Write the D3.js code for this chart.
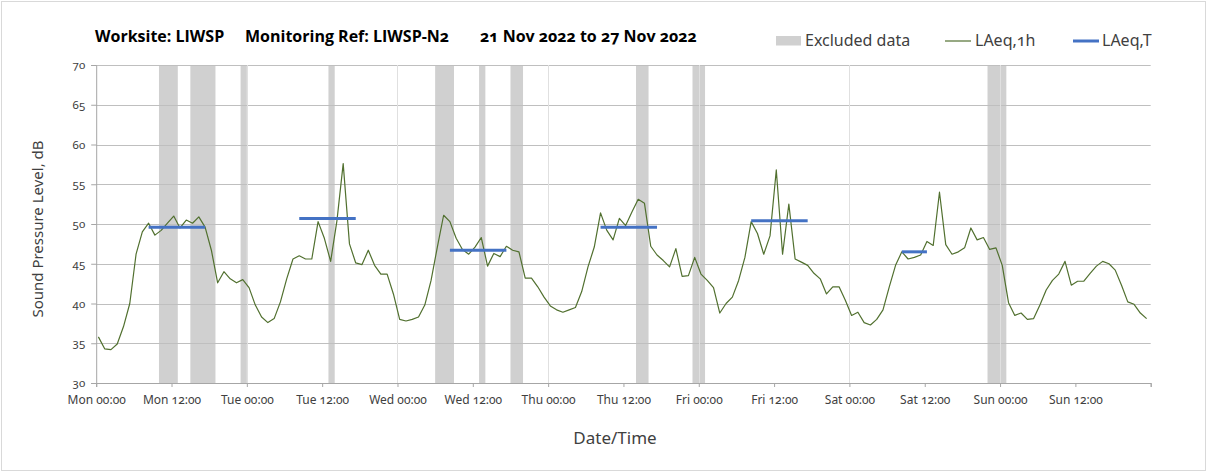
<!DOCTYPE html>
<html>
<head>
<meta charset="utf-8">
<script src="https://cdn.jsdelivr.net/npm/d3@7"></script>
<style>
    body { margin: 0; background: #fff; }
    svg text { font-variant-numeric: oldstyle-nums; }
</style>
</head>
<body>
<svg id="chart" width="1208" height="473"></svg>
<script>
// hourly LAeq,1h values, Mon 00:00 .. Sun 23:00
const laeq1h = [
    35.8, 34.3, 34.2, 34.9, 37.1, 40.0, 46.2, 49.0, 50.1, 48.6, 49.2, 50.1, 51.0, 49.5, 50.5, 50.1, 50.9, 49.6, 46.7, 42.6, 44.0, 43.1, 42.6, 43.0,
    42.0, 39.8, 38.3, 37.6, 38.1, 40.2, 43.1, 45.6, 46.0, 45.6, 45.6, 50.3, 48.2, 45.3, 50.4, 57.6, 47.5, 45.1, 44.9, 46.7, 44.8, 43.7, 43.7, 41.2,
    38.0, 37.8, 38.0, 38.3, 39.8, 42.9, 47.1, 51.1, 50.3, 48.2, 46.8, 46.2, 47.1, 48.3, 44.7, 46.3, 45.9, 47.2, 46.7, 46.5, 43.2, 43.2, 42.1, 40.8,
    39.7, 39.2, 38.9, 39.2, 39.5, 41.5, 44.6, 47.1, 51.4, 49.2, 48.0, 50.7, 49.8, 51.5, 53.1, 52.6, 47.2, 46.1, 45.4, 44.6, 46.9, 43.4, 43.5, 45.8,
    43.7, 42.9, 42.0, 38.8, 40.0, 40.8, 42.9, 45.8, 50.3, 48.8, 46.2, 48.5, 56.8, 46.2, 52.5, 45.6, 45.2, 44.8, 43.8, 43.1, 41.2, 42.1, 42.1, 40.4,
    38.5, 38.9, 37.6, 37.3, 38.0, 39.2, 42.1, 44.8, 46.5, 45.6, 45.8, 46.1, 47.8, 47.3, 54.0, 47.4, 46.2, 46.5, 47.0, 49.5, 48.0, 48.3, 46.8, 47.0,
    44.8, 40.1, 38.5, 38.8, 38.0, 38.1, 39.8, 41.7, 42.9, 43.7, 45.3, 42.3, 42.8, 42.8, 43.8, 44.7, 45.3, 45.0, 44.2, 42.3, 40.2, 39.9, 38.8, 38.1
];

// LAeq,T daytime periods (hour index of first and last sample)
const periodStart = [8, 32, 56, 80, 104, 128];
const periodEnd = [17, 41, 65, 89, 113, 132];
const laeqT = [49.6, 50.7, 46.7, 49.6, 50.4, 46.5];

// excluded data windows, hours from Mon 00:00
const exclStart = [10, 15, 23, 37, 54, 61, 66, 86, 95, 142];
const exclEnd = [13, 19, 24, 38, 57, 62, 68, 88, 97, 145];

const dayNames = ['Mon', 'Tue', 'Wed', 'Thu', 'Fri', 'Sat', 'Sun'];
const yTicks = [30, 35, 40, 45, 50, 55, 60, 65, 70];

const svg = d3.select('#chart');
const margin = { left: 96.2, right: 1150.7, top: 65, bottom: 383 };
const sampleOffset = 0.35;
const textFont = "'Noto Sans', 'Open Sans', sans-serif";

const x = d3.scaleLinear().domain([0, 168]).range([margin.left, margin.right]);
const y = d3.scaleLinear().domain([30, 70]).range([margin.bottom, margin.top]);

// outer frame
svg.append('rect')
    .attr('x', 1.5).attr('y', 1.5)
    .attr('width', 1204).attr('height', 469)
    .attr('fill', '#fff')
    .attr('stroke', '#d9d9d9');

// excluded bands
svg.append('g').selectAll('rect')
    .data(exclStart.map((s, i) => ({ s: s, e: exclEnd[i] })))
    .enter()
    .append('rect')
    .attr('x', d => x(d.s))
    .attr('width', d => x(d.e) - x(d.s))
    .attr('y', margin.top)
    .attr('height', margin.bottom - margin.top)
    .attr('fill', '#d0d0d0');

// gridlines
svg.append('g').selectAll('line')
    .data(yTicks.slice(1))
    .enter()
    .append('line')
    .attr('x1', margin.left).attr('x2', margin.right)
    .attr('y1', d => Math.round(y(d)) + 0.5).attr('y2', d => Math.round(y(d)) + 0.5)
    .attr('stroke', '#bfbfbf');

svg.append('g').selectAll('line')
    .data(d3.range(24, 168, 24))
    .enter()
    .append('line')
    .attr('x1', d => Math.round(x(d)) + 0.5).attr('x2', d => Math.round(x(d)) + 0.5)
    .attr('y1', margin.top).attr('y2', margin.bottom)
    .attr('stroke', '#e0e0e0');

// axes
const xTicks = d3.range(0, 169, 12);
const xAxis = d3.axisBottom(x)
    .tickValues(xTicks)
    .tickSize(4)
    .tickFormat(d => d >= 168 ? '' : `${dayNames[Math.floor(d / 24)]} ${d % 24 === 0 ? '00' : '12'}:00`);

const gx = svg.append('g')
    .attr('transform', `translate(0,${margin.bottom})`)
    .call(xAxis);
gx.select('.domain').attr('stroke', '#a6a6a6');
gx.selectAll('.tick line').attr('stroke', '#a6a6a6');
gx.selectAll('.tick text')
    .attr('dy', '1.15em')
    .attr('fill', '#404040')
    .style('font-family', textFont)
    .style('font-size', '12px');

const yAxis = d3.axisLeft(y).tickValues(yTicks).tickSize(5).tickPadding(6);
const gy = svg.append('g')
    .attr('transform', `translate(${margin.left},0)`)
    .call(yAxis);
gy.select('.domain').attr('stroke', '#a6a6a6');
gy.selectAll('.tick line').attr('stroke', '#a6a6a6');
gy.selectAll('.tick text')
    .attr('fill', '#404040')
    .style('font-family', textFont)
    .style('font-size', '11.5px');

// LAeq,1h line
const line = d3.line()
    .x((d, i) => x(i + sampleOffset))
    .y(d => y(d));

svg.append('path')
    .datum(laeq1h)
    .attr('d', line)
    .attr('fill', 'none')
    .attr('stroke', '#51702f')
    .attr('stroke-width', 1.2)
    .attr('stroke-linejoin', 'round');

// LAeq,T segments
svg.append('g').selectAll('line')
    .data(laeqT.map((v, i) => ({ v: v, s: periodStart[i], e: periodEnd[i] })))
    .enter()
    .append('line')
    .attr('x1', d => x(d.s + sampleOffset))
    .attr('x2', d => x(d.e + sampleOffset))
    .attr('y1', d => y(d.v)).attr('y2', d => y(d.v))
    .attr('stroke', '#4472c4')
    .attr('stroke-width', 3);

// title
const titleParts = [
    { text: 'Worksite: LIWSP', x: 95 },
    { text: 'Monitoring Ref: LIWSP-N2', x: 245 },
    { text: '21 Nov 2022 to 27 Nov 2022', x: 480 }
];
svg.append('g').selectAll('text')
    .data(titleParts)
    .enter()
    .append('text')
    .attr('x', d => d.x)
    .attr('y', 42)
    .attr('fill', '#000')
    .style('font-family', "'Open Sans', 'Noto Sans', sans-serif")
    .style('font-size', '16px')
    .style('font-weight', 'bold')
    .text(d => d.text);

// legend
const legend = svg.append('g').style('font-family', textFont).style('font-size', '16px');
legend.append('rect').attr('x', 776).attr('y', 36).attr('width', 25).attr('height', 9.5).attr('fill', '#d0d0d0');
legend.append('text').attr('x', 805).attr('y', 45.5).attr('fill', '#404040').text('Excluded data');
legend.append('line').attr('x1', 945).attr('x2', 971).attr('y1', 41).attr('y2', 41).attr('stroke', '#51702f').attr('stroke-width', 1.2);
legend.append('text').attr('x', 975).attr('y', 45.5).attr('fill', '#404040').text('LAeq,1h');
legend.append('line').attr('x1', 1073).attr('x2', 1099).attr('y1', 41).attr('y2', 41).attr('stroke', '#4472c4').attr('stroke-width', 3);
legend.append('text').attr('x', 1102).attr('y', 45.5).attr('fill', '#404040').text('LAeq,T');

// axis titles
svg.append('text')
    .attr('transform', 'translate(43,229) rotate(-90)')
    .attr('text-anchor', 'middle')
    .attr('fill', '#404040')
    .style('font-family', textFont)
    .style('font-size', '15px')
    .text('Sound Pressure Level, dB');

svg.append('text')
    .attr('x', 615)
    .attr('y', 444)
    .attr('text-anchor', 'middle')
    .attr('fill', '#404040')
    .style('font-family', textFont)
    .style('font-size', '17px')
    .text('Date/Time');
</script>
</body>
</html>
